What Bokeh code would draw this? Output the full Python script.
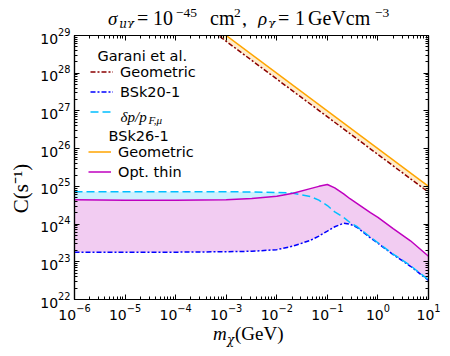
from bokeh.plotting import figure
from bokeh.layouts import column
from bokeh.models import (Label, Legend, LegendItem, LogAxis, FixedTicker,
                          LogTickFormatter, CustomJSTickFormatter, Div)
from bokeh.embed import file_html
from bokeh.resources import INLINE

# ---------------- data ----------------
x_decades = [-6, -5, -4, -3, -2, -1, 0, 1]          # x tick exponents
y_decades = [22, 23, 24, 25, 26, 27, 28, 29]        # y tick exponents

# Geometric limits (straight lines, C ~ 1/m)
geo_m = [1e-4, 1e1]
garani_geometric = [7.0e29, 7.0e24]
bsk26_geometric = [1.0e30, 1.0e25]

# common mass grid for the other curves
m_chi = [1e-6, 1e-5, 1e-4, 1e-3, 3.2e-3, 1e-2, 2.1e-2, 4.6e-2, 6.8e-2, 0.1,
         0.14, 0.21, 0.28, 0.39, 0.71, 1.0, 2.0, 4.4, 10.0]
bsk26_opt_thin = [4.4e24, 4.3e24, 4.3e24, 4.4e24, 4.8e24, 5.5e24, 6.6e24, 8.7e24,
                  1.0e25, 1.12e25, 9.1e24, 6.3e24, 4.7e24, 3.5e24, 2.0e24, 1.5e24,
                  7.6e23, 3.6e23, 1.4e23]
garani_dp = [7.2e24, 7.2e24, 7.2e24, 7.2e24, 7.1e24, 6.9e24, 6.6e24, 5.4e24,
             4.3e24, 3.1e24, 2.1e24, 1.5e24, 1.1e24, 8.5e23, 4.5e23, 3.2e23,
             1.6e23, 7.9e22, 3.3e22]
garani_bsk20 = [1.8e23, 1.8e23, 1.8e23, 1.85e23, 1.9e23, 2.1e23, 2.6e23, 3.7e23,
                4.8e23, 6.5e23, 8.5e23, 1.05e24, 1.0e24, 8.1e23, 4.3e23, 3.1e23,
                1.55e23, 7.6e22, 3.2e22]

# ---------------- layout geometry (page px) ----------------
FL, FB = 74, 299          # frame left / bottom on the page
TITLE_H = 27
FIG_W, FIG_H = 450, 296
XLAB_H = 30

p = figure(width=FIG_W, height=FIG_H, x_axis_type="log", y_axis_type="log",
           x_range=(1e-6, 1e1), y_range=(1e22, 1e29),
           output_backend="svg", toolbar_location=None,
           min_border_left=FL, min_border_right=22, min_border_top=8,
           min_border_bottom=24)
p.grid.visible = False
p.outline_line_color = "black"
p.outline_line_width = 1.2
p.background_fill_color = "white"
p.border_fill_color = "white"

MAG = "#bf00bf"
CYA = "deepskyblue"
ORA = "orange"

# fills
dp_top = [max(a, b) for a, b in zip(garani_dp, bsk26_opt_thin)]
p.varea(x=m_chi, y1=bsk26_opt_thin, y2=dp_top, fill_color=CYA, fill_alpha=0.2)
p.varea(x=m_chi, y1=garani_bsk20, y2=bsk26_opt_thin, fill_color=MAG, fill_alpha=0.2)
p.varea(x=geo_m, y1=garani_geometric, y2=bsk26_geometric, fill_color=ORA, fill_alpha=0.2)

# lines
r_gg = p.line(geo_m, garani_geometric, line_color="darkred", line_width=1.5,
              line_dash="5 2 2 2")
r_bsk20 = p.line(m_chi, garani_bsk20, line_color="blue", line_width=1.5,
                 line_dash="5 2 2 2")
r_dp = p.line(m_chi, garani_dp, line_color=CYA, line_width=1.5, line_dash="8 4")
r_bg = p.line(geo_m, bsk26_geometric, line_color=ORA, line_width=1.5)
r_ot = p.line(m_chi, bsk26_opt_thin, line_color=MAG, line_width=1.5)

# ---------------- axes ----------------
def ticker(decs):
    major = [10.0 ** e for e in decs]
    minor = [k * 10.0 ** e for e in decs[:-1] for k in range(2, 10)]
    return FixedTicker(ticks=major, minor_ticks=minor)

def style(ax, decs, labels=True):
    ax.ticker = ticker(decs)
    ax.axis_line_color = "black"
    ax.axis_line_width = 1.2
    ax.major_tick_in = 5
    ax.major_tick_out = 0
    ax.minor_tick_in = 3
    ax.minor_tick_out = 0
    ax.major_tick_line_color = "black"
    ax.minor_tick_line_color = "black"
    ax.major_tick_line_width = 1
    ax.minor_tick_line_width = 1
    if labels:
        ax.formatter = LogTickFormatter()
        ax.major_label_text_font = "DejaVu Sans"
        ax.major_label_text_font_size = "14px"
        ax.major_label_text_color = "black"
        ax.major_label_standoff = 4
    else:
        ax.formatter = CustomJSTickFormatter(code="return ''")
        ax.major_label_text_font_size = "2px"
        ax.major_label_standoff = 0

style(p.xaxis[0], x_decades)
style(p.yaxis[0], y_decades)
top = LogAxis()
right = LogAxis()
style(top, x_decades, labels=False)
style(right, y_decades, labels=False)
p.add_layout(top, "above")
p.add_layout(right, "right")

# y-axis label (trailing no-break spaces shift the centred text downward)
yax = p.yaxis[0]
yax.axis_label = "C(s⁻¹)" + "\u00a0" * 8
yax.axis_label_text_font = "Liberation Serif"
yax.axis_label_text_font_size = "21px"
yax.axis_label_text_font_style = "normal"
yax.axis_label_text_color = "black"
yax.axis_label_standoff = 4

# ---------------- texts inside the frame ----------------
def lab(text, px, py, size, style="normal", font="Liberation Serif",
        baseline="alphabetic"):
    p.add_layout(Label(x=px - FL, y=FB - py, x_units="screen", y_units="screen",
                       text=text, text_font=font, text_font_size=f"{size}px",
                       text_font_style=style, text_color="black",
                       text_baseline=baseline, text_align="left"))

lab("Garani et al.", 97, 55, 14.5, font="DejaVu Sans", baseline="middle")
lab("BSk26-1", 108, 135, 14.5, font="DejaVu Sans", baseline="middle")
lab("δp/p", 120, 116, 15, "italic")
lab("F,μ", 148, 119, 11, "italic")

def legend(items, x, ybottom):
    lg = Legend(items=items, location=(x, ybottom), orientation="vertical",
                glyph_width=23, glyph_height=15, label_height=15,
                label_standoff=7, spacing=4, padding=0, margin=0,
                border_line_alpha=0, background_fill_alpha=0,
                label_text_font="DejaVu Sans", label_text_font_size="14.5px",
                label_text_color="black")
    p.add_layout(lg)

legend([LegendItem(label="Geometric", renderers=[r_gg]),
        LegendItem(label="BSk20-1", renderers=[r_bsk20]),
        LegendItem(label=" ", renderers=[r_dp])], 16, FB - 118.8)
legend([LegendItem(label="Geometric", renderers=[r_bg]),
        LegendItem(label="Opt. thin", renderers=[r_ot])], 14, FB - 179.8)

# ---------------- texts outside the frame (HTML) ----------------
def span(text, x, base, size, italic=False, font="Liberation Serif", oy=0):
    top_ = base - 0.837 * size - oy
    st = "italic" if italic else "normal"
    return (f'<span style="position:absolute;left:{x:.1f}px;top:{top_:.1f}px;'
            f'font-family:\'{font}\';font-size:{size}px;font-style:{st};'
            f'line-height:1;white-space:nowrap;color:black">{text}</span>')

def box(w, h, inner):
    return (f'<div style="position:relative;width:{w}px;height:{h}px;'
            f'overflow:visible">{inner}</div>')

GR = "DejaVu Serif"
title_html = "".join([
    span("σ", 108, 24.5, 19, True),
    span("μχ", 119, 28, 12, True, font=GR),
    span("=", 137, 24.5, 20),
    span("10", 153, 24.5, 20),
    span("−45", 176, 17, 13.5),
    span("cm", 210, 24.5, 20),
    span("2", 234, 17, 13.5),
    span(",", 242, 24.5, 20),
    span("ρ", 258, 24.5, 19, True),
    span("χ", 268, 28, 12, True, font=GR),
    span("=", 278, 24.5, 20),
    span("1", 295, 24.5, 20),
    span("GeVcm", 308, 24.5, 20),
    span("−3", 375, 17, 13.5),
])
title_div = Div(text=box(450, TITLE_H, title_html), width=450, height=TITLE_H,
                margin=0)

x0 = TITLE_H + FIG_H
xlab_html = "".join([
    span("m", 213, 340, 19, True, oy=x0),
    span("χ", 227, 343.5, 12, True, font=GR, oy=x0),
    span("(GeV)", 235, 340, 19, oy=x0),
])
xlab_div = Div(text=box(450, XLAB_H, xlab_html), width=450, height=XLAB_H,
               margin=0)

layout = column(title_div, p, xlab_div, spacing=0)

open("out.html", "w").write(file_html(layout, INLINE))
